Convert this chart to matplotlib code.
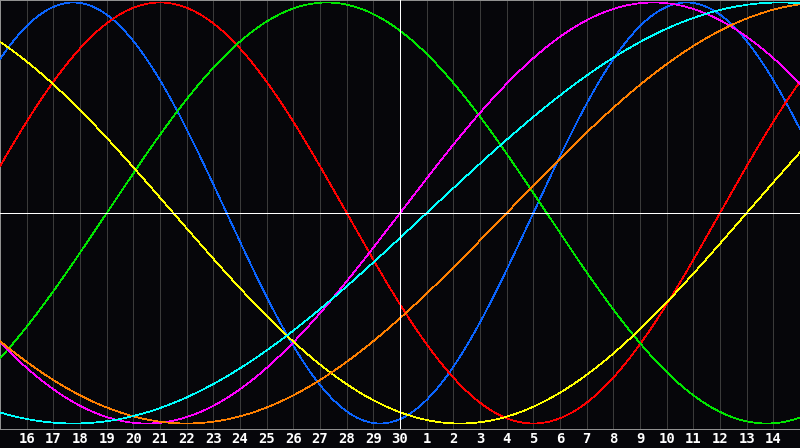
import numpy as np
import matplotlib
matplotlib.use("Agg")
import matplotlib.pyplot as plt

# Day labels along the bottom (15th at the left edge, not labelled)
day_labels = [16, 17, 18, 19, 20, 21, 22, 23, 24, 25, 26, 27, 28, 29, 30,
              1, 2, 3, 4, 5, 6, 7, 8, 9, 10, 11, 12, 13, 14]
# Days lived at the left edge of the chart
days_lived_at_start = 25901
# Biorhythm cycles: period in days and colour
cycle_names = ["physical", "emotional", "intellectual", "intuitive",
               "aesthetic", "awareness", "spiritual"]
cycle_periods = [23, 28, 33, 38, 43, 48, 53]
cycle_colors = ["#0a64ff", "#ff0000", "#00e600", "#ff00ff",
                "#ffff00", "#ff8000", "#00ffff"]

n_days = len(day_labels) + 1
W, H = 800, 448
fig = plt.figure(figsize=(W / 100, H / 100), dpi=100)
fig.patch.set_facecolor("#06060a")
plot_h = 429
ax = fig.add_axes([0, (H - plot_h) / H, 1, plot_h / H])
ax.set_facecolor("#06060a")

center_px, amp_px = 213, 210.5
ax.set_xlim(0, n_days)
ax.set_ylim((center_px - plot_h) / amp_px, center_px / amp_px)

px = 0.72  # one pixel in points

# day grid
for k in range(1, n_days):
    ax.axvline(k, color="#3a3a3a", lw=px, antialiased=False, zorder=1)

d = np.linspace(0, n_days, 2000)
for name, p, c in zip(cycle_names, cycle_periods, cycle_colors):
    v = np.sin(2 * np.pi * (days_lived_at_start + d) / p)
    ax.plot(d, v, color=c, lw=0.5, antialiased=False, zorder=3)

# today cross
ax.axvline(day_labels.index(30) + 1, color="white", lw=px, antialiased=False, zorder=4)
ax.axhline(0, color="white", lw=px, antialiased=False, zorder=4)

for s in ax.spines.values():
    s.set_color("#909090")
    s.set_linewidth(px)
ax.set_xticks([])
ax.set_yticks([])

for i, lab in enumerate(day_labels):
    x = (i + 1) / n_days
    fig.text(x, 1 - 439 / H, str(lab), color="white", ha="center", va="center",
             fontsize=10, fontweight="bold", family="DejaVu Sans Mono")

fig.savefig("out.png", dpi=100, facecolor=fig.get_facecolor())
